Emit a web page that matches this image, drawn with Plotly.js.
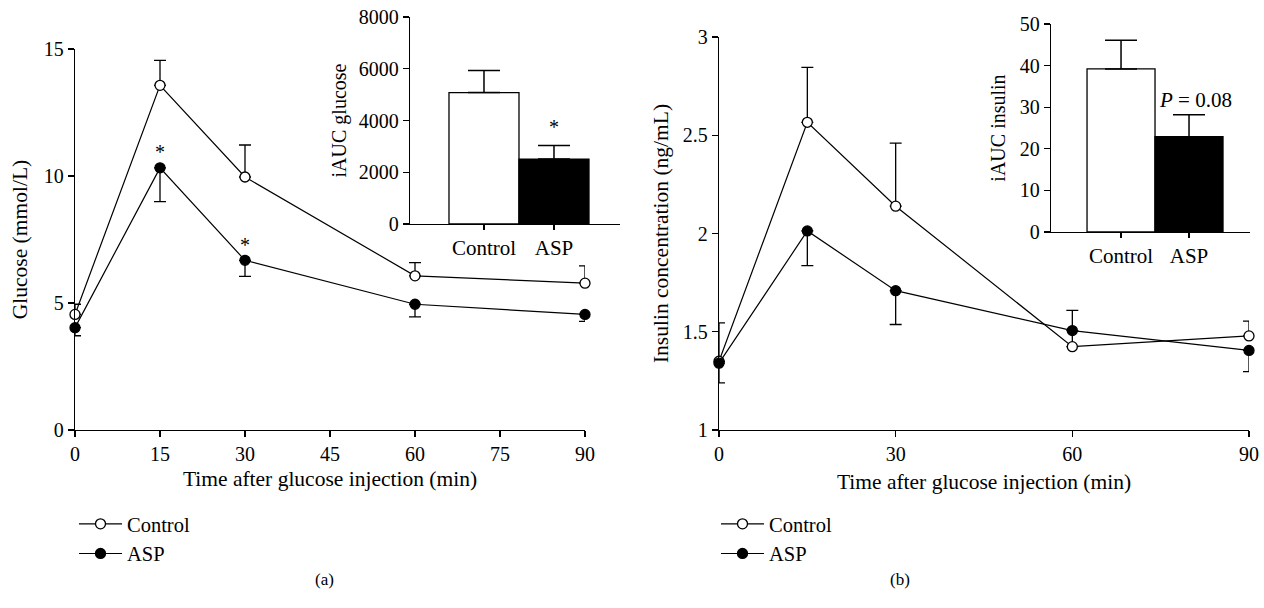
<!DOCTYPE html>
<html><head><meta charset="utf-8">
<script src="https://cdn.plot.ly/plotly-3.0.1.min.js"></script>
<style>html,body{margin:0;padding:0;background:#fff}#chart{width:1264px;height:608px}</style>
</head><body><div id="chart"></div>
<script>
// ---- Data ----
const timeA = [0, 15, 30, 60, 90];
const glucoseControl = [4.55, 13.57, 9.96, 6.07, 5.78];
const glucoseControlErr = [0.4, 0.98, 1.26, 0.52, 0.68];
const glucoseASP = [4.03, 10.32, 6.68, 4.95, 4.55];
const glucoseASPErr = [0.32, 1.33, 0.63, 0.5, 0.27];
const glucoseStarTimes = [15, 30];
const glucoseStarY = [10.95, 7.3];

const timeB = [0, 15, 30, 60, 90];
const insulinControl = [1.35, 2.566, 2.139, 1.424, 1.479];
const insulinControlErr = [0.195, 0.279, 0.321, 0.185, 0.075];
const insulinASP = [1.34, 2.013, 1.709, 1.506, 1.405];
const insulinASPErr = [0.1, 0.176, 0.172, 0.0, 0.108];

const groups = ['Control', 'ASP'];
const iaucGlucose = [5080, 2510];
const iaucGlucoseErr = [850, 520];
const iaucInsulin = [39.2, 22.9];
const iaucInsulinErr = [6.9, 5.3];

// ---- Helpers ----
const W = 1264, H = 608;
const px = v => v / W;
const py = v => 1 - v / H;
const FONT = "'Liberation Serif', 'DejaVu Serif', serif";
const zeros = n => new Array(n).fill(0);
const f = s => ({family: FONT, size: s, color: '#000000'});

function lineTrace(x, y, err, up, filled, name, xa, ya, legend) {
  return {
    type: 'scatter', mode: 'lines+markers', x: x, y: y, name: name,
    xaxis: xa, yaxis: ya, legend: legend, cliponaxis: false,
    line: {color: '#000', width: 1.2},
    marker: {symbol: 'circle', size: 10, color: filled ? '#000' : '#fff', line: {color: '#000', width: 1.3}},
    error_y: {type: 'data', symmetric: false,
      array: up ? err : zeros(err.length),
      arrayminus: up ? zeros(err.length) : err,
      color: '#000', thickness: 1.3, width: 6}
  };
}

function barTrace(vals, errs, xa, ya) {
  return {
    type: 'bar', x: groups, y: vals, xaxis: xa, yaxis: ya, width: 1, showlegend: false,
    marker: {color: ['#fff', '#000'], line: {color: '#000', width: 1.3}},
    error_y: {type: 'data', symmetric: false, array: errs, arrayminus: zeros(errs.length),
      color: '#000', thickness: 1.5, width: 16}
  };
}

const data = [
  lineTrace(timeA, glucoseControl, glucoseControlErr, true, false, 'Control', 'x', 'y', 'legend'),
  lineTrace(timeA, glucoseASP, glucoseASPErr, false, true, 'ASP', 'x', 'y', 'legend'),
  barTrace(iaucGlucose, iaucGlucoseErr, 'x2', 'y2'),
  lineTrace(timeB, insulinControl, insulinControlErr, true, false, 'Control', 'x3', 'y3', 'legend2'),
  lineTrace(timeB, insulinASP, insulinASPErr, false, true, 'ASP', 'x3', 'y3', 'legend2'),
  barTrace(iaucInsulin, iaucInsulinErr, 'x4', 'y4')
];

const axBase = {
  showline: true, linecolor: '#000', linewidth: 1.2, showgrid: false, zeroline: false,
  ticks: 'outside', ticklen: 6, tickwidth: 1.2, tickcolor: '#000',
  tickfont: f(20), automargin: false, fixedrange: true
};
const ttl = (t, size, standoff) => ({text: t, font: f(size), standoff: standoff});

const layout = {
  width: W, height: H, margin: {l: 0, r: 0, t: 0, b: 0},
  paper_bgcolor: '#fff', plot_bgcolor: 'rgba(0,0,0,0)',
  font: f(20),
  showlegend: true,
  xaxis: Object.assign({}, axBase, {domain: [px(75), px(585)], range: [0, 90], tickvals: [0, 15, 30, 45, 60, 75, 90],
    anchor: 'y', title: ttl('Time after glucose injection (min)', 21.5, 6)}),
  yaxis: Object.assign({}, axBase, {domain: [py(430), py(49)], range: [0, 15], tickvals: [0, 5, 10, 15],
    anchor: 'x', title: ttl('Glucose (mmol/L)', 21.5, 10)}),
  xaxis2: Object.assign({}, axBase, {domain: [px(410), px(620)], type: 'category', range: [-1.057, 1.943],
    anchor: 'y2', tickfont: f(21), ticklen: 5}),
  yaxis2: Object.assign({}, axBase, {domain: [py(224), py(17)], range: [0, 8000], tickvals: [0, 2000, 4000, 6000, 8000],
    anchor: 'x2', title: ttl('iAUC glucose', 20, 6)}),
  xaxis3: Object.assign({}, axBase, {domain: [px(719), px(1249)], range: [0, 90], tickvals: [0, 30, 60, 90],
    anchor: 'y3', title: ttl('Time after glucose injection (min)', 21.5, 9)}),
  yaxis3: Object.assign({}, axBase, {domain: [py(430), py(37)], range: [1, 3], tickvals: [1, 1.5, 2, 2.5, 3],
    anchor: 'x3', title: ttl('Insulin concentration (ng/mL)', 21.5, 8)}),
  xaxis4: Object.assign({}, axBase, {domain: [px(1051), px(1250)], type: 'category', range: [-1.03, 1.897],
    anchor: 'y4', tickfont: f(21), ticklen: 5}),
  yaxis4: Object.assign({}, axBase, {domain: [py(232), py(24)], range: [0, 50], tickvals: [0, 10, 20, 30, 40, 50],
    anchor: 'x4', title: ttl('iAUC insulin', 20, 8)}),
  legend: {x: px(74), y: py(504), xanchor: 'left', yanchor: 'top', bgcolor: 'rgba(0,0,0,0)',
    font: f(20.5), tracegroupgap: 0, itemwidth: 43},
  legend2: {x: px(716), y: py(504), xanchor: 'left', yanchor: 'top', bgcolor: 'rgba(0,0,0,0)',
    font: f(20.5), tracegroupgap: 0, itemwidth: 43},
  annotations: [
    ...glucoseStarTimes.map((t, i) => ({x: t, y: glucoseStarY[i], xref: 'x', yref: 'y', text: '*', showarrow: false,
      font: f(20)})),
    {x: 1, y: iaucGlucose[1] + iaucGlucoseErr[1] + 700, xref: 'x2', yref: 'y2', text: '*', showarrow: false,
      font: f(20)},
    {x: 1.1, y: iaucInsulin[1] + iaucInsulinErr[1] + 3.6, xref: 'x4', yref: 'y4', text: '<i>P</i> = 0.08', showarrow: false,
      font: f(21)},
    {x: px(313), y: py(591), xref: 'paper', yref: 'paper', text: '(a)', showarrow: false, font: f(17)},
    {x: px(912), y: py(591), xref: 'paper', yref: 'paper', text: '(b)', showarrow: false, font: f(17)}
  ]
};

Plotly.newPlot('chart', data, layout, {displayModeBar: false, staticPlot: true});
</script></body></html>
